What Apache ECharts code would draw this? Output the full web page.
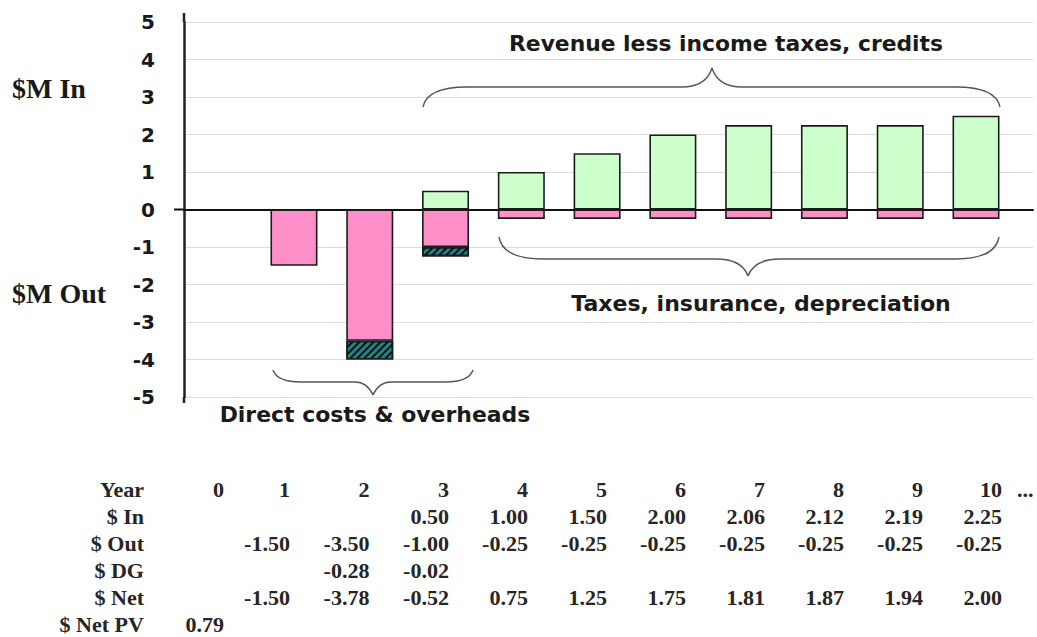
<!DOCTYPE html>
<html>
<head>
<meta charset="utf-8">
<script src="https://cdn.jsdelivr.net/npm/echarts@6/dist/echarts.min.js"></script>
<style>
  html, body { margin: 0; padding: 0; background: #ffffff; }
  #chart { width: 1037px; height: 637px; }
</style>
</head>
<body>
<div id="chart"></div>
<script>
// ---- Cash-flow profile by project year ($M) ----
const years = ['0', '1', '2', '3', '4', '5', '6', '7', '8', '9', '10'];
const cashIn = [null, null, null, 0.5, 1.0, 1.5, 2.0, 2.25, 2.25, 2.25, 2.5];
const cashOut = [null, -1.5, -3.5, -1.0, -0.25, -0.25, -0.25, -0.25, -0.25, -0.25, -0.25];
const cashDG = [null, null, -0.5, -0.25, null, null, null, null, null, null, null];
const yTickValues = [-5, -4, -3, -2, -1, 0, 1, 2, 3, 4, 5];

// ---- Summary table ----
const tableRowLabels = ['Year', '$ In', '$ Out', '$ DG', '$ Net', '$ Net PV'];
const tableYear = ['0', '1', '2', '3', '4', '5', '6', '7', '8', '9', '10'];
const tableIn = ['', '', '', '0.50', '1.00', '1.50', '2.00', '2.06', '2.12', '2.19', '2.25'];
const tableOut = ['', '-1.50', '-3.50', '-1.00', '-0.25', '-0.25', '-0.25', '-0.25', '-0.25', '-0.25', '-0.25'];
const tableDG = ['', '', '-0.28', '-0.02', '', '', '', '', '', '', ''];
const tableNet = ['', '-1.50', '-3.78', '-0.52', '0.75', '1.25', '1.75', '1.81', '1.87', '1.94', '2.00'];
const tableNetPV = ['0.79', '', '', '', '', '', '', '', '', '', ''];

const annotations = {
  revenue: 'Revenue less income taxes, credits',
  taxes: 'Taxes, insurance, depreciation',
  direct: 'Direct costs & overheads',
  axisIn: '$M In',
  axisOut: '$M Out'
};

const barBorder = { borderColor: '#1c1c1c', borderWidth: 1.6 };

const chart = echarts.init(document.getElementById('chart'), null, { renderer: 'svg' });

const option = {
  backgroundColor: '#ffffff',
  animation: false,
  // grid 0 carries the visible frame (value axis, grid lines, zero line);
  // grid 1 lays the yearly bars out over the same vertical scale
  grid: [
    { left: 184, right: 4, top: 22, bottom: 240 },
    { left: 180.3, width: 833.6, top: 22, bottom: 240 }
  ],
  xAxis: [
    {
      gridIndex: 0, type: 'value', min: 0, max: 1,
      axisLine: { show: true, onZero: true, lineStyle: { color: '#111', width: 2 } },
      axisTick: { show: false }, axisLabel: { show: false }, splitLine: { show: false }
    },
    {
      gridIndex: 1, type: 'category', data: years, boundaryGap: true,
      axisLine: { show: false }, axisTick: { show: false }, axisLabel: { show: false }, splitLine: { show: false }
    }
  ],
  yAxis: [
    {
      gridIndex: 0, type: 'value', min: -5, max: 5, interval: 1,
      axisLine: { show: true, onZero: false, lineStyle: { color: '#222', width: 2.5 } },
      axisTick: { show: false },
      splitLine: { show: true, lineStyle: { color: '#dcdcdc', width: 1 } },
      axisLabel: {
        margin: 29,
        color: '#1a1a1a',
        fontFamily: 'DejaVu Sans',
        fontWeight: 'bold',
        fontSize: 20,
        formatter: (v) => (yTickValues.indexOf(v) >= 0 ? String(v) : '')
      }
    },
    {
      gridIndex: 1, type: 'value', min: -5, max: 5, interval: 1,
      axisLine: { show: false }, axisTick: { show: false }, axisLabel: { show: false }, splitLine: { show: false }
    }
  ],
  series: [
    {
      name: '$ In', type: 'bar', stack: 'flow', barWidth: 47, xAxisIndex: 1, yAxisIndex: 1,
      itemStyle: Object.assign({ color: '#ccffcc' }, barBorder),
      data: cashIn
    },
    {
      name: '$ Out', type: 'bar', stack: 'flow', barWidth: 47, xAxisIndex: 1, yAxisIndex: 1,
      itemStyle: Object.assign({ color: '#ff8fc8' }, barBorder),
      data: cashOut
    },
    {
      name: '$ DG', type: 'bar', stack: 'flow', barWidth: 47, xAxisIndex: 1, yAxisIndex: 1,
      itemStyle: Object.assign({
        color: '#1f8585',
        decal: {
          symbol: 'rect', symbolSize: 1, color: 'rgba(0,0,0,0.9)',
          dashArrayX: [1, 0], dashArrayY: [2, 3], rotation: -Math.PI / 4
        }
      }, barBorder),
      data: cashDG
    }
  ]
};

chart.setOption(option);

// ---- annotation braces ----
function brace(x1, x2, yEnd, yBar, yTip, xTip, r, rt) {
  const s = { stroke: '#555', lineWidth: 1.4, fill: null };
  const z = 10;
  return [
    { type: 'bezierCurve', z, shape: { x1: x1, y1: yEnd, cpx1: x1 + 4, cpy1: yBar, x2: x1 + r, y2: yBar }, style: s },
    { type: 'line', z, shape: { x1: x1 + r, y1: yBar, x2: xTip - rt, y2: yBar }, style: s },
    { type: 'bezierCurve', z, shape: { x1: xTip - rt, y1: yBar, cpx1: xTip - 6, cpy1: yBar, x2: xTip, y2: yTip }, style: s },
    { type: 'bezierCurve', z, shape: { x1: xTip, y1: yTip, cpx1: xTip + 6, cpy1: yBar, x2: xTip + rt, y2: yBar }, style: s },
    { type: 'line', z, shape: { x1: xTip + rt, y1: yBar, x2: x2 - r, y2: yBar }, style: s },
    { type: 'bezierCurve', z, shape: { x1: x2 - r, y1: yBar, cpx1: x2 - 4, cpy1: yBar, x2: x2, y2: yEnd }, style: s }
  ];
}

function label(text, x, y, font, align, fill, sx) {
  return {
    type: 'text', z: 20, x: x, y: y, scaleX: sx || 1,
    style: { text: text, font: font, fill: fill || '#1a1a1a', align: align, verticalAlign: 'middle',
             textAlign: align, textVerticalAlign: 'middle' }
  };
}

const annoFont = 'bold 21px "DejaVu Sans"';
const serifAxisFont = 'bold 28px "Liberation Serif"';
const tableFont = 'bold 21px "Liberation Serif"';

const graphics = [];
graphics.push(...brace(423, 1000, 107, 87, 68, 712, 44, 30));
graphics.push(...brace(499, 999, 237, 259, 276, 748, 44, 32));
graphics.push(...brace(273, 473, 370, 382, 395, 373, 28, 18));

graphics.push(label(annotations.revenue, 726, 44, annoFont, 'center', null, 1.04));
graphics.push(label(annotations.taxes, 761, 304, annoFont, 'center', null, 1.05));
graphics.push(label(annotations.direct, 375, 415, annoFont, 'center', null, 1.045));
graphics.push(label(annotations.axisIn, 12, 88, serifAxisFont, 'left'));
graphics.push(label(annotations.axisOut, 12, 293, serifAxisFont, 'left'));

// axis stubs: the y axis line runs a little past the plot, zero line starts left of it
const axisX = chart.convertToPixel({ xAxisIndex: 0 }, 0);
const yTop = chart.convertToPixel({ yAxisIndex: 0 }, 5);
const yBot = chart.convertToPixel({ yAxisIndex: 0 }, -5);
const yZero = chart.convertToPixel({ yAxisIndex: 0 }, 0);
const stub = { stroke: '#222', lineWidth: 2.5 };
graphics.push({ type: 'line', z: 5, shape: { x1: axisX, y1: yTop - 9, x2: axisX, y2: yTop }, style: stub });
graphics.push({ type: 'line', z: 5, shape: { x1: axisX, y1: yBot, x2: axisX, y2: yBot + 6 }, style: stub });
graphics.push({ type: 'line', z: 5, shape: { x1: axisX - 10, y1: yZero, x2: axisX, y2: yZero }, style: { stroke: '#111', lineWidth: 2 } });

// ---- summary table ----
const rowY = [490, 517, 544, 571, 598, 625];
const labelRight = 144;
const colRight = [224, 290, 369.5, 449, 528, 607, 686, 765, 844, 923, 1002];
const tableRows = [tableYear, tableIn, tableOut, tableDG, tableNet, tableNetPV];
tableRows.forEach((row, r) => {
  graphics.push(label(tableRowLabels[r], labelRight, rowY[r], tableFont, 'right', '#262626', 1.05));
  row.forEach((txt, c) => {
    if (txt) graphics.push(label(txt, colRight[c], rowY[r], tableFont, 'right', '#262626', 1.05));
  });
});
graphics.push(label('...', 1017, rowY[0], tableFont, 'left', '#262626', 1.05));

chart.setOption({ graphic: { elements: graphics } });
</script>
</body>
</html>
